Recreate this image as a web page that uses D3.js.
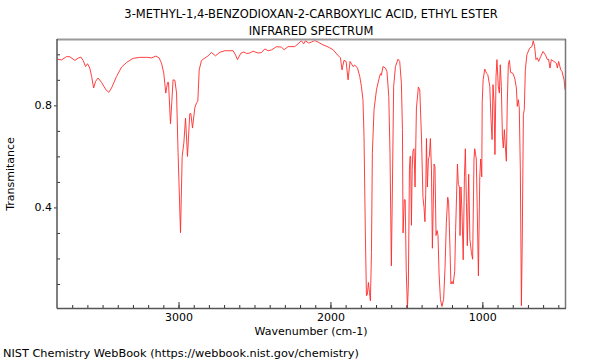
<!DOCTYPE html>
<html><head><meta charset="utf-8">
<script src="https://cdn.jsdelivr.net/npm/d3@7"></script>
<style>body{margin:0;background:#fff}svg{display:block}text{font-family:"DejaVu Sans",sans-serif;fill:#000}</style>
</head><body><svg id="c" width="600" height="360"></svg>
<script>
const titleLines = ["3-METHYL-1,4-BENZODIOXAN-2-CARBOXYLIC ACID, ETHYL ESTER", "INFRARED SPECTRUM"];
const xLabel = "Wavenumber (cm-1)";
const yLabel = "Transmitance";
const footer = "NIST Chemistry WebBook (https://webbook.nist.gov/chemistry)";
const xTickLabels = [3000, 2000, 1000];
const yTickLabels = [0.4, 0.8];
const wavenumber = [3800,3770,3737,3715,3682,3661,3643,3628,3612,3599,3584,3572,3559,3546,3529,3507,3478,3459,3441,3408,3375,3342,3299,3255,3211,3178,3149,3128,3112,3097,3084,3072,3066,3053,3044,3036,3024,3013,3003,2987,2976,2965,2954,2941,2926,2919,2908,2893,2882,2873,2864,2849,2827,2805,2783,2757,2728,2695,2641,2625,2612,2590,2570,2551,2531,2509,2476,2454,2432,2410,2388,2355,2322,2305,2279,2235,2213,2191,2176,2165,2143,2125,2103,2082,2049,2016,1983,1954,1934,1924,1911,1897,1884,1871,1851,1840,1822,1807,1796,1786,1779,1770,1763,1757,1750,1743,1737,1730,1724,1713,1697,1682,1671,1665,1654,1638,1628,1616,1608,1599,1592,1584,1572,1555,1544,1533,1526,1522,1514,1508,1501,1493,1487,1480,1476,1472,1467,1462,1457,1450,1443,1434,1421,1412,1401,1391,1384,1378,1373,1368,1362,1355,1349,1342,1335,1329,1318,1312,1305,1298,1292,1285,1276,1266,1255,1246,1237,1228,1222,1213,1207,1199,1192,1182,1176,1164,1158,1151,1147,1141,1134,1126,1118,1112,1105,1099,1090,1082,1072,1064,1055,1050,1040,1034,1026,1017,1011,1004,1001,995,984,973,964,951,943,936,930,923,917,910,904,895,888,882,875,868,862,855,849,842,836,829,822,814,800,787,776,770,763,757,750,743,737,730,724,717,707,689,674,665,656,647,638,630,616,601,585,572,564,555,546,529,513,506,498,484,476,462,456];
const transmittance = [0.981,0.978,0.991,0.99,0.976,0.985,0.989,0.976,0.952,0.963,0.946,0.913,0.868,0.894,0.907,0.89,0.861,0.851,0.868,0.913,0.95,0.968,0.984,0.988,0.988,0.986,0.993,0.986,0.965,0.926,0.848,0.89,0.89,0.728,0.816,0.9,0.898,0.848,0.614,0.301,0.6,0.653,0.75,0.6,0.767,0.768,0.711,0.79,0.809,0.816,0.939,0.976,0.985,0.994,1.007,0.994,1.008,1.014,1.014,0.998,0.979,1.004,1.009,1.003,1.005,1.012,1.005,1.007,1.021,1.014,1.017,1.03,1.028,1.018,1.03,1.03,1.041,1.053,1.041,1.053,1.044,1.048,1.054,1.048,1.037,1.029,1.018,0.998,0.986,0.939,0.976,0.972,0.9,0.972,0.952,0.958,0.946,0.913,0.874,0.822,0.679,0.288,0.054,0.06,0.106,0.067,0.034,0.223,0.614,0.783,0.861,0.9,0.924,0.918,0.952,0.946,0.933,0.835,0.614,0.171,0.484,0.874,0.952,0.981,0.972,0.887,0.705,0.30,0.43,0.43,0.15,0.005,0.1,0.55,0.60,0.60,0.33,0.55,0.62,0.63,0.48,0.79,0.872,0.86,0.68,0.44,0.40,0.344,0.45,0.67,0.48,0.59,0.6,0.67,0.55,0.24,0.57,0.56,0.29,0.31,0.29,0.14,0.04,0.012,0.04,0.16,0.34,0.44,0.42,0.236,0.1,0.11,0.10,0.15,0.31,0.57,0.49,0.48,0.29,0.48,0.38,0.195,0.52,0.63,0.42,0.25,0.53,0.275,0.223,0.197,0.59,0.63,0.59,0.40,0.132,0.52,0.59,0.52,0.81,0.90,0.942,0.926,0.92,0.874,0.744,0.666,0.881,0.809,0.607,0.913,0.979,0.874,0.848,0.959,0.874,0.679,0.633,0.705,0.64,0.581,0.809,0.959,0.976,0.929,0.926,0.907,0.868,0.796,0.822,0.79,0.549,0.015,0.288,0.764,0.783,0.939,0.998,1.024,1.03,1.053,1.03,0.979,0.986,0.972,0.991,1.011,0.998,0.979,0.981,0.946,0.979,0.972,0.965,0.946,0.972,0.939,0.933,0.9,0.861];

const svg = d3.select("#c");
const L = 57, R = 565, T = 40, B = 308;
const x = d3.scaleLinear().domain([3800, 456]).range([L, R]);
const y = d3.scaleLinear().domain([0.006, 1.056]).range([B, T]);

// title
titleLines.forEach((t, i) => svg.append("text").attr("x", 311).attr("y", 18 + i * 17)
  .attr("text-anchor", "middle").style("font-size", "11.5px").text(t));

// clip
svg.append("clipPath").attr("id", "clip").append("rect").attr("x", L).attr("y", T).attr("width", R - L).attr("height", B - T);

// line
const pts = wavenumber.map((w, i) => [w, transmittance[i]]);
svg.append("path").attr("clip-path", "url(#clip)").datum(pts)
  .attr("fill", "none").attr("stroke", "#ff2a2a").attr("stroke-width", 0.9)
  .attr("d", d3.line().x(d => x(d[0])).y(d => y(d[1])));

// frame
svg.append("line").attr("x1", L).attr("x2", R + 1).attr("y1", T - 0.5).attr("y2", T - 0.5).attr("stroke", "#999").attr("stroke-width", 2);
svg.append("line").attr("x1", R + 0.5).attr("x2", R + 0.5).attr("y1", T - 1).attr("y2", B).attr("stroke", "#777").attr("stroke-width", 1.5);

// x axis
const xMinor = d3.range(3700, 456, -100);
const gx = svg.append("g").attr("transform", `translate(0,${B})`);
gx.call(d3.axisBottom(x).tickValues(xMinor).tickSize(-3).tickFormat(""));
gx.select(".domain").remove();
gx.selectAll(".tick line").attr("stroke", "#333");
const gx2 = svg.append("g").attr("transform", `translate(0,${B})`);
gx2.call(d3.axisBottom(x).tickValues(xTickLabels).tickSize(-6).tickPadding(5).tickFormat(d3.format("d")));
gx2.select(".domain").remove();
gx2.selectAll(".tick line").attr("stroke", "#333");
gx2.selectAll("text").style("font-size", "11px").style("font-family", "DejaVu Sans").attr("fill", "#000");

// y axis
const yMinor = d3.range(0.1, 1.05, 0.1).map(v => +v.toFixed(1)).filter(v => v !== 0.4 && v !== 0.8);
const gy = svg.append("g").attr("transform", `translate(${L},0)`);
gy.call(d3.axisLeft(y).tickValues(yMinor).tickSize(-3).tickFormat(""));
gy.select(".domain").remove();
gy.selectAll(".tick line").attr("stroke", "#333");
const gy2 = svg.append("g").attr("transform", `translate(${L},0)`);
gy2.call(d3.axisLeft(y).tickValues(yTickLabels).tickSize(3).tickPadding(2).tickFormat(d3.format(".1f")));
gy2.select(".domain").remove();
gy2.selectAll(".tick line").attr("stroke", "#333");
gy2.selectAll("text").style("font-size", "11px").style("font-family", "DejaVu Sans").attr("fill", "#000");

svg.append("line").attr("x1", L).attr("x2", L).attr("y1", T - 1).attr("y2", B + 0.5).attr("stroke", "#555").attr("stroke-width", 1.5);
svg.append("line").attr("x1", L).attr("x2", R + 1).attr("y1", B + 0.5).attr("y2", B + 0.5).attr("stroke", "#555").attr("stroke-width", 1.5);

// labels
svg.append("text").attr("x", 311).attr("y", 335).attr("text-anchor", "middle").style("font-size", "11px").text(xLabel);
svg.append("text").attr("transform", "translate(14,174) rotate(-90)").attr("text-anchor", "middle").style("font-size", "11px").text(yLabel);
svg.append("text").attr("x", 3).attr("y", 357).style("font-size", "11.3px").text(footer);
</script></body></html>
